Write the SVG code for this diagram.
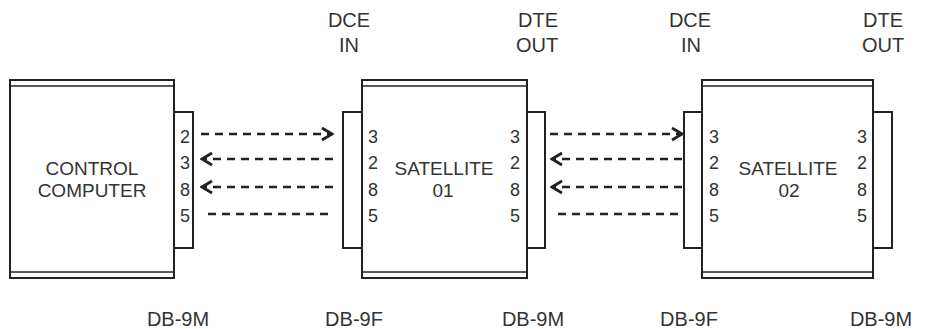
<svg xmlns="http://www.w3.org/2000/svg" width="929" height="329" viewBox="0 0 929 329">
<style>
  .box { fill: #fff; stroke: #222; stroke-width: 2; }
  .band { stroke: #222; stroke-width: 1.6; }
  .conn { fill: #fff; stroke: #222; stroke-width: 2; }
  .wire { fill: none; stroke: #222; stroke-width: 2.5; stroke-dasharray: 8 6; }
  .t { font-family: "Liberation Sans", Arial, Helvetica, sans-serif; fill: #333; }
  .pin { font-size: 18px; }
  .name { font-size: 19px; text-anchor: middle; }
  .lbl { font-size: 20px; text-anchor: middle; }
</style>
<defs>
  <marker id="chev" markerUnits="userSpaceOnUse" viewBox="-13 -8 15 16" markerWidth="15" markerHeight="16" refX="0" refY="0" orient="auto">
    <path d="M-10,-6 L0,0 L-10,6" fill="none" stroke="#222" stroke-width="2.8" stroke-dasharray="none"/>
  </marker>
</defs>
<rect width="929" height="329" fill="#fff"/>

<g id="control-computer">
  <rect class="conn" x="174" y="112" width="19" height="136"/>
  <rect class="box" x="10" y="80" width="164" height="198"/>
  <line class="band" x1="10" y1="86" x2="174" y2="86"/>
  <line class="band" x1="10" y1="272" x2="174" y2="272"/>
  <text class="t name" x="92" y="175">CONTROL</text>
  <text class="t name" x="92" y="197">COMPUTER</text>
  <text class="t pin" x="180" y="143">2</text>
  <text class="t pin" x="180" y="169">3</text>
  <text class="t pin" x="180" y="196">8</text>
  <text class="t pin" x="180" y="222">5</text>
</g>

<g id="satellite-01">
  <rect class="conn" x="343" y="112" width="19" height="136"/>
  <rect class="conn" x="527" y="112" width="18" height="136"/>
  <rect class="box" x="362" y="80" width="165" height="198"/>
  <line class="band" x1="362" y1="86" x2="527" y2="86"/>
  <line class="band" x1="362" y1="272" x2="527" y2="272"/>
  <text class="t name" x="444" y="175">SATELLITE</text>
  <text class="t name" x="443" y="197">01</text>
  <text class="t pin" x="368" y="143">3</text>
  <text class="t pin" x="368" y="169">2</text>
  <text class="t pin" x="368" y="196">8</text>
  <text class="t pin" x="368" y="222">5</text>
  <text class="t pin" x="510" y="143">3</text>
  <text class="t pin" x="510" y="169">2</text>
  <text class="t pin" x="510" y="196">8</text>
  <text class="t pin" x="510" y="222">5</text>
</g>

<g id="satellite-02">
  <rect class="conn" x="684" y="112" width="18" height="136"/>
  <rect class="conn" x="873" y="112" width="19" height="136"/>
  <rect class="box" x="702" y="80" width="171" height="198"/>
  <line class="band" x1="702" y1="86" x2="873" y2="86"/>
  <line class="band" x1="702" y1="272" x2="873" y2="272"/>
  <text class="t name" x="788" y="175">SATELLITE</text>
  <text class="t name" x="789" y="197">02</text>
  <text class="t pin" x="709" y="143">3</text>
  <text class="t pin" x="709" y="169">2</text>
  <text class="t pin" x="709" y="196">8</text>
  <text class="t pin" x="709" y="222">5</text>
  <text class="t pin" x="857" y="143">3</text>
  <text class="t pin" x="857" y="169">2</text>
  <text class="t pin" x="857" y="196">8</text>
  <text class="t pin" x="857" y="222">5</text>
</g>

<g id="connectors">
  <line class="wire" x1="201" y1="134" x2="332" y2="134" marker-end="url(#chev)"/>
  <line class="wire" x1="333" y1="159" x2="202" y2="159" marker-end="url(#chev)"/>
  <line class="wire" x1="333" y1="187" x2="202" y2="187" marker-end="url(#chev)"/>
  <line class="wire" x1="208" y1="214" x2="334" y2="214"/>
  <line class="wire" x1="550" y1="134" x2="682" y2="134" marker-end="url(#chev)"/>
  <line class="wire" x1="682" y1="159" x2="552" y2="159" marker-end="url(#chev)"/>
  <line class="wire" x1="682" y1="187" x2="552" y2="187" marker-end="url(#chev)"/>
  <line class="wire" x1="558" y1="214" x2="683" y2="214"/>
</g>

<g id="labels">
  <text class="t lbl" x="349" y="27">DCE</text>
  <text class="t lbl" x="349" y="52">IN</text>
  <text class="t lbl" x="538" y="27">DTE</text>
  <text class="t lbl" x="537" y="52">OUT</text>
  <text class="t lbl" x="690" y="27">DCE</text>
  <text class="t lbl" x="691" y="52">IN</text>
  <text class="t lbl" x="883" y="27">DTE</text>
  <text class="t lbl" x="883" y="52">OUT</text>
  <text class="t lbl" x="178" y="326">DB-9M</text>
  <text class="t lbl" x="354" y="326">DB-9F</text>
  <text class="t lbl" x="533" y="326">DB-9M</text>
  <text class="t lbl" x="689" y="326">DB-9F</text>
  <text class="t lbl" x="881" y="326">DB-9M</text>
</g>
</svg>
